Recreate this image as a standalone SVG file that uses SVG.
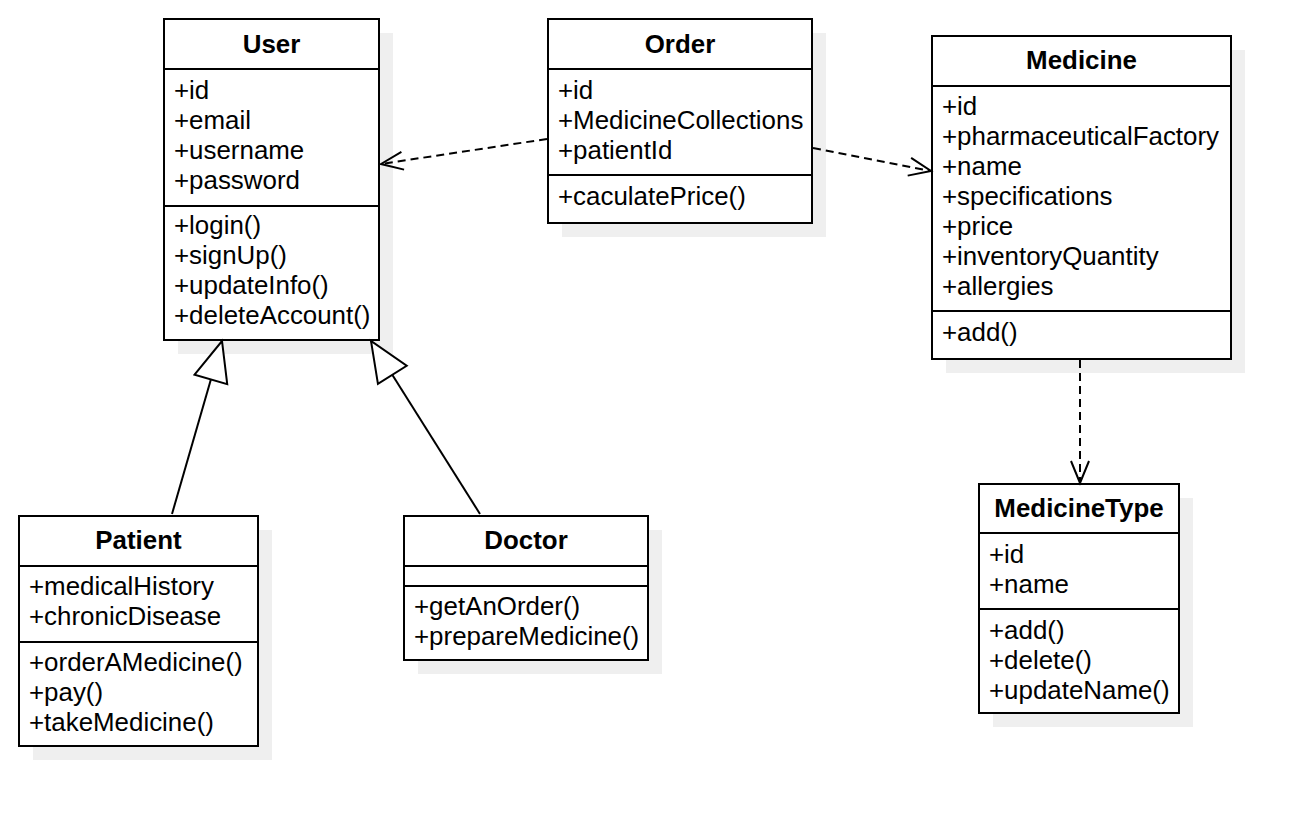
<svg xmlns="http://www.w3.org/2000/svg" width="1310" height="826" viewBox="0 0 1310 826">
<style>
.shadow{fill:#efefef;stroke:none}
.box{fill:#ffffff;stroke:#000000;stroke-width:2}
.sep{stroke:#000000;stroke-width:2}
.t{font-family:"Liberation Sans",Arial,Helvetica,sans-serif;font-size:25.9px;fill:#000000}
.title{font-family:"Liberation Sans",Arial,Helvetica,sans-serif;font-size:25.9px;font-weight:bold;fill:#000000;text-anchor:middle}
.dep{fill:none;stroke:#000000;stroke-width:2;stroke-dasharray:8 5}
.gen{fill:none;stroke:#000000;stroke-width:2}
</style>
<defs>
<marker id="open" viewBox="0 0 22 18" refX="22" refY="9" markerWidth="22" markerHeight="18" markerUnits="userSpaceOnUse" orient="auto" overflow="visible">
<path d="M0,0 L22,9 L0,18" fill="none" stroke="#000000" stroke-width="2"/>
</marker>
<marker id="tri" viewBox="0 0 40 34" refX="40" refY="17" markerWidth="40" markerHeight="34" markerUnits="userSpaceOnUse" orient="auto" overflow="visible">
<path d="M0,0 L40,17 L0,34 Z" fill="#ffffff" stroke="#000000" stroke-width="2"/>
</marker>
</defs>
<rect width="1310" height="826" fill="#ffffff"/>

<g id="User">
<rect class="shadow" x="178" y="33" width="215" height="321"/>
<rect class="box" x="164" y="19" width="215" height="321"/>
<line class="sep" x1="164" y1="69" x2="379" y2="69"/>
<line class="sep" x1="164" y1="206" x2="379" y2="206"/>
<text class="title" x="271.5" y="53">User</text>
<text class="t" x="174" y="99">+id</text>
<text class="t" x="174" y="129">+email</text>
<text class="t" x="174" y="159">+username</text>
<text class="t" x="174" y="189">+password</text>
<text class="t" x="174" y="234">+login()</text>
<text class="t" x="174" y="264">+signUp()</text>
<text class="t" x="174" y="294">+updateInfo()</text>
<text class="t" x="174" y="324">+deleteAccount()</text>
</g>

<g id="Order">
<rect class="shadow" x="562" y="33" width="264" height="204"/>
<rect class="box" x="548" y="19" width="264" height="204"/>
<line class="sep" x1="548" y1="69" x2="812" y2="69"/>
<line class="sep" x1="548" y1="175" x2="812" y2="175"/>
<text class="title" x="680" y="53">Order</text>
<text class="t" x="558" y="99">+id</text>
<text class="t" x="558" y="129">+MedicineCollections</text>
<text class="t" x="558" y="159">+patientId</text>
<text class="t" x="558" y="205">+caculatePrice()</text>
</g>

<g id="Medicine">
<rect class="shadow" x="946" y="50" width="299" height="323"/>
<rect class="box" x="932" y="36" width="299" height="323"/>
<line class="sep" x1="932" y1="86" x2="1231" y2="86"/>
<line class="sep" x1="932" y1="311" x2="1231" y2="311"/>
<text class="title" x="1081.5" y="69">Medicine</text>
<text class="t" x="942" y="115">+id</text>
<text class="t" x="942" y="145">+pharmaceuticalFactory</text>
<text class="t" x="942" y="175">+name</text>
<text class="t" x="942" y="205">+specifications</text>
<text class="t" x="942" y="235">+price</text>
<text class="t" x="942" y="265">+inventoryQuantity</text>
<text class="t" x="942" y="295">+allergies</text>
<text class="t" x="942" y="341">+add()</text>
</g>

<g id="MedicineType">
<rect class="shadow" x="993" y="498" width="200" height="229"/>
<rect class="box" x="979" y="484" width="200" height="229"/>
<line class="sep" x1="979" y1="533" x2="1179" y2="533"/>
<line class="sep" x1="979" y1="609" x2="1179" y2="609"/>
<text class="title" x="1079" y="517">MedicineType</text>
<text class="t" x="989" y="563">+id</text>
<text class="t" x="989" y="593">+name</text>
<text class="t" x="989" y="639">+add()</text>
<text class="t" x="989" y="669">+delete()</text>
<text class="t" x="989" y="699">+updateName()</text>
</g>

<g id="Patient">
<rect class="shadow" x="33" y="530" width="239" height="230"/>
<rect class="box" x="19" y="516" width="239" height="230"/>
<line class="sep" x1="19" y1="566" x2="258" y2="566"/>
<line class="sep" x1="19" y1="642" x2="258" y2="642"/>
<text class="title" x="138.5" y="549">Patient</text>
<text class="t" x="29" y="595">+medicalHistory</text>
<text class="t" x="29" y="625">+chronicDisease</text>
<text class="t" x="29" y="671">+orderAMedicine()</text>
<text class="t" x="29" y="701">+pay()</text>
<text class="t" x="29" y="731">+takeMedicine()</text>
</g>

<g id="Doctor">
<rect class="shadow" x="418" y="530" width="244" height="144"/>
<rect class="box" x="404" y="516" width="244" height="144"/>
<line class="sep" x1="404" y1="566" x2="648" y2="566"/>
<line class="sep" x1="404" y1="586" x2="648" y2="586"/>
<text class="title" x="526" y="549">Doctor</text>
<text class="t" x="414" y="615">+getAnOrder()</text>
<text class="t" x="414" y="645">+prepareMedicine()</text>
</g>

<g id="connectors">
<path class="dep" d="M547,139 L381,164" marker-end="url(#open)"/>
<path class="dep" d="M813,148 L931,171" marker-end="url(#open)"/>
<path class="dep" d="M1080,360 L1080,483" marker-end="url(#open)"/>
<path class="gen" d="M172,514 L222,341" marker-end="url(#tri)"/>
<path class="gen" d="M480,514 L371,341" marker-end="url(#tri)"/>
</g>
</svg>
